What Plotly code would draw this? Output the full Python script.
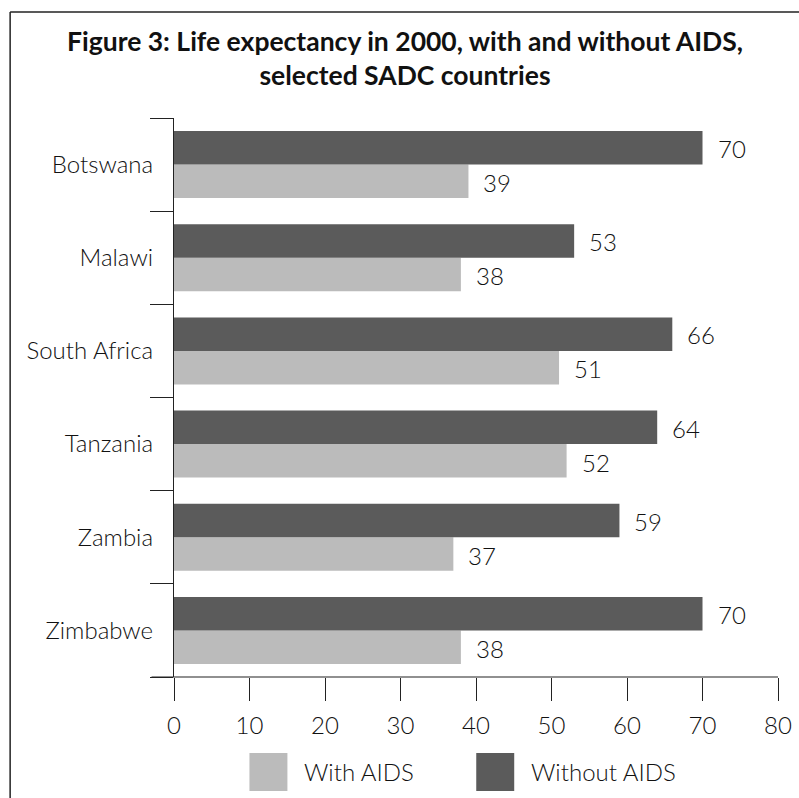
import plotly.graph_objects as go

countries = ["Botswana", "Malawi", "South Africa", "Tanzania", "Zambia", "Zimbabwe"]
with_aids = [39, 38, 51, 52, 37, 38]
without_aids = [70, 53, 66, 64, 59, 70]
series_names = ["With AIDS", "Without AIDS"]
x_ticks = [0, 10, 20, 30, 40, 50, 60, 70, 80]

DARK = "#5b5b5b"
LIGHT = "#bbbbbb"
FONT = "Lato"
TXT = "#111111"
FS = 24
WT = 300

W, H = 799, 798
L, R, T, B = 173.5, 21, 118, 121
pw, ph = W - L - R, H - T - B

def px(x):
    return (x - L) / pw

def py(y):
    return (H - B - y) / ph

fig = go.Figure()
fig.add_trace(go.Bar(y=countries, x=with_aids, name=series_names[0], orientation="h",
                     marker=dict(color=LIGHT, line=dict(width=0)), showlegend=False))
fig.add_trace(go.Bar(y=countries, x=without_aids, name=series_names[1], orientation="h",
                     marker=dict(color=DARK, line=dict(width=0)), showlegend=False))

annotations = []
# value labels
for i, c in enumerate(countries):
    for k, vals in enumerate([with_aids, without_aids]):
        annotations.append(dict(x=vals[i], y=c, xref="x", yref="y", text=str(vals[i]),
                                showarrow=False, xanchor="left", xshift=13,
                                yshift=(-18 if k == 0 else 16),
                                font=dict(family=FONT, size=FS, color=TXT, weight=WT)))

# title
annotations.append(dict(x=px(405), y=py(58), xref="paper", yref="paper",
                        text="<b>Figure 3: Life expectancy in 2000, with and without AIDS,<br>selected SADC countries</b>",
                        showarrow=False, xanchor="center", yanchor="middle", align="center",
                        font=dict(family=FONT, size=26.5, color=TXT)))

shapes = []
# manual legend
leg = [(249, LIGHT, series_names[0]), (476, DARK, series_names[1])]
for x0, col, name in leg:
    shapes.append(dict(type="rect", xref="paper", yref="paper", x0=px(x0), x1=px(x0 + 38),
                       y0=py(791), y1=py(753), fillcolor=col, line=dict(width=0)))
    annotations.append(dict(x=px(x0 + 53), y=py(772), xref="paper", yref="paper", text=name,
                            showarrow=False, xanchor="left", yanchor="middle",
                            font=dict(family=FONT, size=FS, color=TXT, weight=WT)))

# x axis line extension to the left
shapes.append(dict(type="line", xref="paper", yref="paper", x0=px(151), x1=1, y0=0, y1=0,
                   line=dict(color="#222", width=1.2)))
# outer frame (left and top edges)
shapes.append(dict(type="line", xref="paper", yref="paper", x0=px(9.5), x1=px(9.5), y0=py(12), y1=py(820),
                   line=dict(color="#222", width=1.5)))
shapes.append(dict(type="line", xref="paper", yref="paper", x0=px(9.5), x1=px(820), y0=py(12), y1=py(12),
                   line=dict(color="#222", width=1.5)))

fig.update_layout(
    width=W, height=H,
    margin=dict(l=L, r=R, t=T, b=B, autoexpand=False),
    paper_bgcolor="white", plot_bgcolor="white",
    barmode="group", bargap=0.28, bargroupgap=0,
    font=dict(family=FONT, size=FS, color=TXT),
    annotations=annotations, shapes=shapes,
    xaxis=dict(range=[0, 80], tickvals=x_ticks, ticks="outside", ticklen=23, tickcolor="#222",
               tickwidth=1.2, showgrid=False, zeroline=False, showline=False,
               tickfont=dict(family=FONT, size=FS, color=TXT, weight=WT), ticklabelstandoff=4),
    yaxis=dict(categoryorder="array", categoryarray=countries[::-1], autorange=False,
               range=[-0.5, 5.5], tickson="boundaries", ticks="outside", ticklen=23,
               tickcolor="#222", tickwidth=1.2, showline=True, linecolor="#222", linewidth=1.2,
               showgrid=False, zeroline=False, ticklabelstandoff=15,
               tickfont=dict(family=FONT, size=FS, color=TXT, weight=WT)),
)

fig.write_html("out.html")
